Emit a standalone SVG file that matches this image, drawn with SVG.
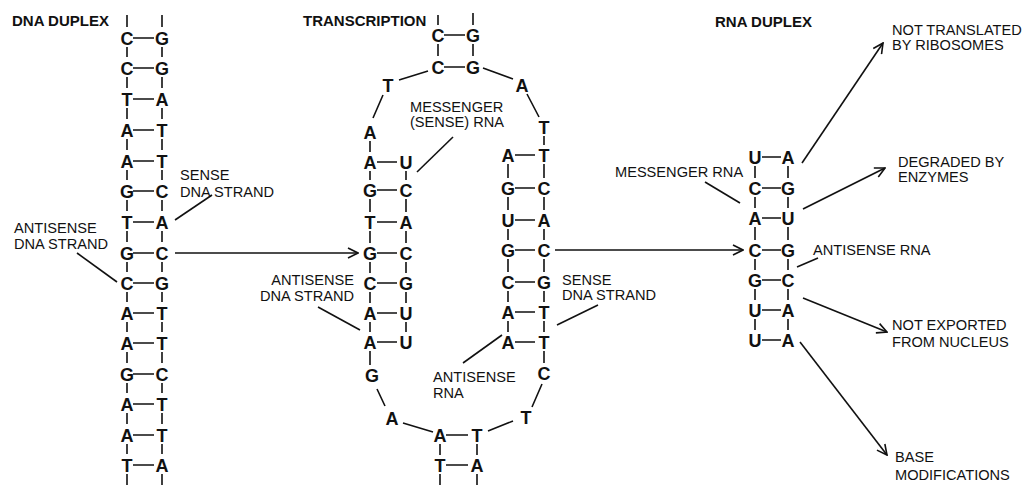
<svg xmlns="http://www.w3.org/2000/svg" width="1026" height="485" viewBox="0 0 1026 485">
<style>
.b{font-family:"Liberation Sans",Arial,sans-serif;font-weight:bold;font-size:18px;fill:#111;text-anchor:middle}
.t{font-family:"Liberation Sans",Arial,sans-serif;font-weight:bold;font-size:15px;fill:#111}
.l{font-family:"Liberation Sans",Arial,sans-serif;font-size:14.6px;fill:#111}
.r{text-anchor:end}
line,path{stroke:#111;stroke-width:1.6;fill:none}
</style>
<defs>
<marker id="ah" viewBox="0 0 12 12" refX="11" refY="6" markerWidth="12" markerHeight="12" markerUnits="userSpaceOnUse" orient="auto">
<path d="M1,1 L11,6 L1,11" style="stroke:#111;stroke-width:1.6;fill:none"/>
</marker>
</defs>
<rect width="1026" height="485" fill="#fff"/>

<g id="dna-duplex">
<text class="t" x="12" y="26">DNA DUPLEX</text>
<path d="M127,15V27M162,15V27M127,47V57M162,47V57M127,77V88M162,77V88M127,108V119M162,108V119M127,139V150M162,139V150M127,170V180M162,170V180M127,200V211M162,200V211M127,231V242M162,231V242M127,262V272M162,262V272M127,292V302M162,292V302M127,322V332M162,322V332M127,352V363M162,352V363M127,383V393M162,383V393M127,413V424M162,413V424M127,444V454M162,444V454M127,474V485M162,474V485"/>
<path d="M133,38H154M133,68H154M133,99H154M133,130H154M133,161H154M133,191H154M133,222H154M133,253H154M133,283H154M133,313H154M133,343H154M133,374H154M133,404H154M133,435H154M133,465H154"/>
<text class="b" x="127" y="44.5">C</text><text class="b" x="162" y="44.5">G</text>
<text class="b" x="127" y="74.5">C</text><text class="b" x="162" y="74.5">G</text>
<text class="b" x="127" y="105.5">T</text><text class="b" x="162" y="105.5">A</text>
<text class="b" x="127" y="136.5">A</text><text class="b" x="162" y="136.5">T</text>
<text class="b" x="127" y="167.5">A</text><text class="b" x="162" y="167.5">T</text>
<text class="b" x="127" y="197.5">G</text><text class="b" x="162" y="197.5">C</text>
<text class="b" x="127" y="228.5">T</text><text class="b" x="162" y="228.5">A</text>
<text class="b" x="127" y="259.5">G</text><text class="b" x="162" y="259.5">C</text>
<text class="b" x="127" y="289.5">C</text><text class="b" x="162" y="289.5">G</text>
<text class="b" x="127" y="319.5">A</text><text class="b" x="162" y="319.5">T</text>
<text class="b" x="127" y="349.5">A</text><text class="b" x="162" y="349.5">T</text>
<text class="b" x="127" y="380.5">G</text><text class="b" x="162" y="380.5">C</text>
<text class="b" x="127" y="410.5">A</text><text class="b" x="162" y="410.5">T</text>
<text class="b" x="127" y="441.5">A</text><text class="b" x="162" y="441.5">T</text>
<text class="b" x="127" y="471.5">T</text><text class="b" x="162" y="471.5">A</text>
</g>

<g id="label-sense-dna-1">
<text class="l" x="180" y="180">SENSE</text>
<text class="l" x="180" y="197">DNA STRAND</text>
</g>
<g id="label-antisense-dna-1">
<text class="l" x="14" y="233">ANTISENSE</text>
<text class="l" x="14" y="249">DNA STRAND</text>
</g>

<g id="transcription">
<text class="t" x="303" y="26">TRANSCRIPTION</text>
<path d="M438,15V25M473,13V25M438,44V56M473,44V56"/>
<path d="M444,35H465M444,67H465"/>
<text class="b" x="438" y="41.5">C</text><text class="b" x="473" y="41.5">G</text>
<text class="b" x="438" y="73.5">C</text><text class="b" x="473" y="73.5">G</text>
<text class="b" x="388" y="91.5">T</text>
<text class="b" x="522" y="91.5">A</text>
<path d="M428,71L399,80M383,95L373,118M483,68L513,79M527,94L539,117"/>
<!-- left inner -->
<path d="M370,141V152M370,171V180M370,199V212M370,231V243M370,262V273M370,292V303M370,322V332M370,351V365M406,171V180M406,199V212M406,231V243M406,262V273M406,292V303M406,322V332"/>
<path d="M377,162H397M377,190H397M377,222H397M377,253H397M377,283H397M377,313H397M377,342H397"/>
<text class="b" x="370" y="138.5">A</text>
<text class="b" x="370" y="168.5">A</text><text class="b" x="406" y="168.5">U</text>
<text class="b" x="370" y="196.5">G</text><text class="b" x="406" y="196.5">C</text>
<text class="b" x="370" y="228.5">T</text><text class="b" x="406" y="228.5">A</text>
<text class="b" x="370" y="259.5">G</text><text class="b" x="406" y="259.5">C</text>
<text class="b" x="370" y="289.5">C</text><text class="b" x="406" y="289.5">G</text>
<text class="b" x="370" y="319.5">A</text><text class="b" x="406" y="319.5">U</text>
<text class="b" x="370" y="348.5">A</text><text class="b" x="406" y="348.5">U</text>
<text class="b" x="372" y="381.5">G</text>
<!-- right inner -->
<path d="M544,136V145M544,164V178M544,197V210M544,229V240M544,259V272M544,291V302M544,321V332M544,351V363M508,164V178M508,197V210M508,229V240M508,259V272M508,291V302M508,321V332"/>
<path d="M515,155H535M515,188H535M515,220H535M515,250H535M515,282H535M515,312H535M515,342H535"/>
<text class="b" x="544" y="133.5">T</text>
<text class="b" x="508" y="161.5">A</text><text class="b" x="544" y="161.5">T</text>
<text class="b" x="508" y="194.5">G</text><text class="b" x="544" y="194.5">C</text>
<text class="b" x="508" y="226.5">U</text><text class="b" x="544" y="226.5">A</text>
<text class="b" x="508" y="256.5">G</text><text class="b" x="544" y="256.5">C</text>
<text class="b" x="508" y="288.5">C</text><text class="b" x="544" y="288.5">G</text>
<text class="b" x="508" y="318.5">A</text><text class="b" x="544" y="318.5">T</text>
<text class="b" x="508" y="348.5">A</text><text class="b" x="544" y="348.5">T</text>
<text class="b" x="544" y="379.5">C</text>
<!-- bottom loop -->
<path d="M377,389L385,406M403,423L433,432M542,384L532,407M513,421L488,431"/>
<text class="b" x="392" y="424.5">A</text>
<text class="b" x="526" y="423.5">T</text>
<path d="M446,435H468M446,465H468"/>
<path d="M440,444V455M477,444V455M440,474V485M477,474V485"/>
<text class="b" x="440" y="441.5">A</text><text class="b" x="477" y="441.5">T</text>
<text class="b" x="440" y="471.5">T</text><text class="b" x="477" y="471.5">A</text>
</g>

<g id="label-messenger-sense-rna">
<text class="l" x="410" y="112">MESSENGER</text>
<text class="l" x="410" y="127">(SENSE) RNA</text>
</g>
<g id="label-antisense-dna-2">
<text class="l r" x="354" y="285">ANTISENSE</text>
<text class="l r" x="354" y="301">DNA STRAND</text>
</g>
<g id="label-sense-dna-2">
<text class="l" x="562" y="285">SENSE</text>
<text class="l" x="562" y="300">DNA STRAND</text>
</g>
<g id="label-antisense-rna-1">
<text class="l" x="433" y="382">ANTISENSE</text>
<text class="l" x="433" y="398">RNA</text>
</g>

<g id="rna-duplex">
<text class="t" x="715" y="27">RNA DUPLEX</text>
<path d="M755,166V178M788,166V178M755,197V208M788,197V208M755,227V240M788,227V240M755,259V270M788,259V270M755,289V300M788,289V300M755,319V330M788,319V330"/>
<path d="M762,157H781M762,188H781M762,218H781M762,250H781M762,280H781M762,310H781M762,340H781"/>
<text class="b" x="755" y="163.5">U</text><text class="b" x="788" y="163.5">A</text>
<text class="b" x="755" y="194.5">C</text><text class="b" x="788" y="194.5">G</text>
<text class="b" x="755" y="224.5">A</text><text class="b" x="788" y="224.5">U</text>
<text class="b" x="755" y="256.5">C</text><text class="b" x="788" y="256.5">G</text>
<text class="b" x="755" y="286.5">G</text><text class="b" x="788" y="286.5">C</text>
<text class="b" x="755" y="316.5">U</text><text class="b" x="788" y="316.5">A</text>
<text class="b" x="755" y="346.5">U</text><text class="b" x="788" y="346.5">A</text>
</g>

<g id="label-messenger-rna"><text class="l" x="615" y="177">MESSENGER RNA</text></g>
<g id="label-antisense-rna-2"><text class="l" x="813" y="255">ANTISENSE RNA</text></g>
<g id="label-not-translated"><text class="l" x="892" y="35">NOT TRANSLATED</text><text class="l" x="892" y="50">BY RIBOSOMES</text></g>
<g id="label-degraded"><text class="l" x="898" y="167">DEGRADED BY</text><text class="l" x="898" y="182">ENZYMES</text></g>
<g id="label-not-exported"><text class="l" x="892" y="330">NOT EXPORTED</text><text class="l" x="892" y="347">FROM NUCLEUS</text></g>
<g id="label-base-mod"><text class="l" x="895" y="462">BASE</text><text class="l" x="895" y="480">MODIFICATIONS</text></g>

<g id="connectors">
<line x1="212" y1="195" x2="175" y2="220"/>
<line x1="77" y1="253" x2="117" y2="282"/>
<line x1="453" y1="137" x2="417" y2="172"/>
<line x1="318" y1="307" x2="360" y2="330"/>
<line x1="598" y1="305" x2="557" y2="325"/>
<line x1="463" y1="363" x2="502" y2="335"/>
<line x1="705" y1="182" x2="740" y2="203"/>
<line x1="818" y1="258" x2="797" y2="267"/>
<line x1="175" y1="253" x2="358" y2="253" marker-end="url(#ah)"/>
<line x1="555" y1="250" x2="743" y2="250" marker-end="url(#ah)"/>
<line x1="802" y1="163" x2="883" y2="43" marker-end="url(#ah)"/>
<line x1="803" y1="209" x2="885" y2="168" marker-end="url(#ah)"/>
<line x1="803" y1="298" x2="887" y2="332" marker-end="url(#ah)"/>
<line x1="800" y1="342" x2="887" y2="455" marker-end="url(#ah)"/>
</g>
</svg>
